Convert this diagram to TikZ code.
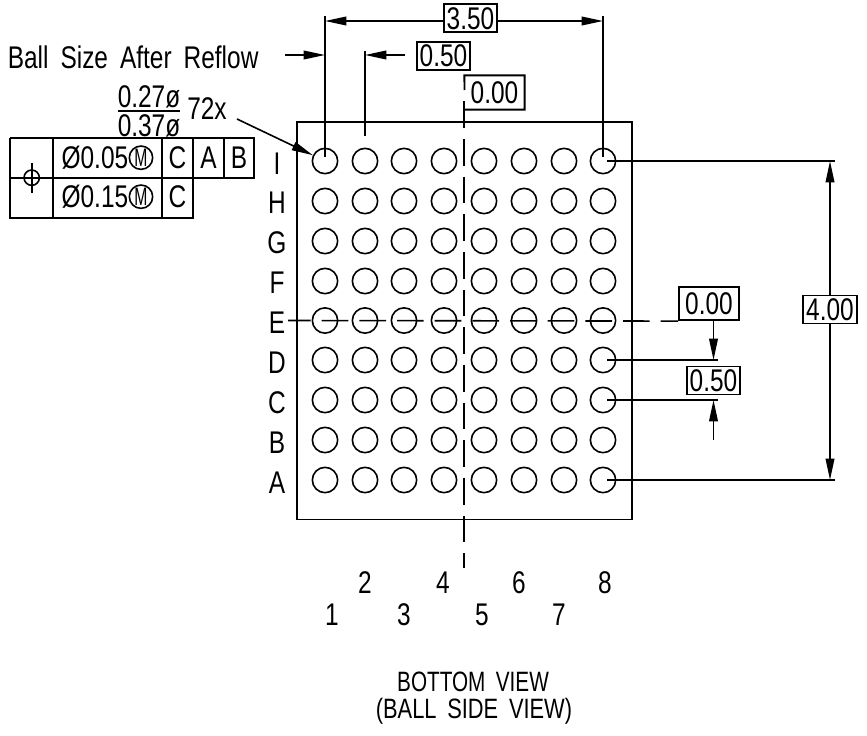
\documentclass[tikz,border=0pt]{standalone}
\usepackage{fontspec}
\setmainfont[FakeStretch=.78]{Liberation Sans}
\newfontfamily\narrowfont[FakeStretch=.74]{Liberation Sans}
\newfontfamily\tinyfont[FakeStretch=.62]{Liberation Sans}
\usetikzlibrary{arrows.meta}
\tikzset{>={Triangle[length=16pt,width=6.5pt]}}
\tikzset{
	dimtext/.style={inner sep=0pt,font=\fontsize{23.5}{23.5}\selectfont},
	dimbox/.style={dimtext,draw,line width=1.4pt,minimum width=40pt,minimum height=21pt},
	ball/.style={circle,draw,line width=1.2pt,minimum size=19pt,inner sep=0pt},
	centerline/.style={line width=1.2pt,dash pattern=on 20pt off 8.25pt},
	circled/.style={circle,draw,line width=1.2pt,minimum size=17.5pt,inner sep=0pt,font=\fontsize{19}{19}\tinyfont},
	titletext/.style={inner sep=0pt,font=\fontsize{21}{21}\selectfont}
}
\begin{document}
\begin{tikzpicture}[x=.75pt,y=-.75pt,line width=1.2pt]
	\useasboundingbox (0,0) rectangle (867,735);
	% package outline and ball grid
	\draw (297,121.7) rectangle (632,519.5);
	\foreach \col/\xpos in {1/325,2/365,3/404,4/444,5/484,6/524,7/564,8/603}{
		\foreach \row/\ypos in {I/161,H/201,G/241,F/281,E/320.5,D/360,C/400,B/440,A/480}{
			\node[ball] (ball-\col-\row) at (\xpos,\ypos) {};
		}
	}
	\foreach \row/\ypos in {I/164,H/203,G/243,F/283,E/323,D/363,C/403,B/443,A/483}{
		\node[dimtext] (row-\row) at (277,\ypos) {\row};
	}
	\foreach \col/\xpos/\ypos in {1/332/615,2/365/583,3/404/615,4/443/583,5/482/615,6/519/583,7/559/615,8/605/583}{
		\node[dimtext] (col-\col) at (\xpos,\ypos) {\col};
	}
	% center lines
	\coordinate (vtop) at (464,101.3);
	\coordinate (vbot) at (464,568);
	\coordinate (hleft) at (288,320.5);
	\node[dimbox,minimum width=45pt,minimum height=25pt] (zero-right) at (709,303.5) {0.00};
	\draw[centerline] (vtop) -- (vbot);
	\draw[centerline,dash phase=3pt] (hleft) -- (zero-right.south west);
	\node[dimtext,minimum width=44pt,minimum height=24.5pt] (zero-top) at (494.5,92.5) {0.00};
	\draw[line width=1.4pt] (464.5,90) -- (zero-top.north west) -- (zero-top.north east) -- (zero-top.south east) -- (zero-top.south west);
	% top dimensions
	\coordinate (ext-1) at (325,16);
	\coordinate (ext-2) at (365,51);
	\coordinate (ext-8) at (603,16);
	\coordinate (dim-left) at (325,21);
	\coordinate (dim-right) at (603,21);
	\coordinate (size-tail) at (285,55);
	\coordinate (size-tip) at (325,55);
	\coordinate (pitch-tail) at (405,55);
	\coordinate (pitch-tip) at (365,55);
	\draw ([yshift=3pt]ball-1-I.center) -- (ext-1);
	\draw ([yshift=3pt]ball-8-I.center) -- (ext-8);
	\draw (ball-2-I.north) ++(0,-11.5) -- (ext-2);
	\node[dimbox] (width-all) at (470.5,18.3) {3.50};
	\draw[->] (width-all.west |- dim-left) -- (dim-left);
	\draw[->] (width-all.east |- dim-right) -- (dim-right);
	\node[dimbox] (width-pitch) at (443.5,56) {0.50};
	\draw[->] (size-tail) -- (size-tip);
	\draw[->] (pitch-tail) -- (pitch-tip);
	% right dimensions
	\coordinate (line-d) at (718,360);
	\coordinate (line-c) at (718,400);
	\coordinate (arrow-d) at (713.5,360);
	\coordinate (arrow-c) at (713.5,400);
	\coordinate (arrow-tail) at (713.5,440);
	\coordinate (line-i) at (835,161);
	\coordinate (line-a) at (835,480);
	\coordinate (high-i) at (830,161);
	\coordinate (high-a) at (830,480);
	\draw ([xshift=3pt]ball-8-D.center) -- (line-d);
	\draw ([xshift=3pt]ball-8-C.center) -- (line-c);
	\draw ([xshift=3pt]ball-8-I.center) -- (line-i);
	\draw ([xshift=3pt]ball-8-A.center) -- (line-a);
	\draw[->] (zero-right.south -| arrow-d) -- (arrow-d);
	\draw[->] (arrow-tail) -- (arrow-c);
	\node[dimbox] (pitch-right) at (713.5,380.5) {0.50};
	\node[dimbox] (high-all) at (830,309.5) {4.00};
	\draw[->] (high-all.north -| high-i) -- (high-i);
	\draw[->] (high-all.south -| high-a) -- (high-a);
	% ball size note
	\node[dimtext,anchor=west] (ball-note) at (7,57) {Ball\, Size\, After\, Reflow};
	\node[dimtext] (size-min) at (149,96.5) {0.27ø};
	\node[dimtext] (size-max) at (149,125.5) {0.37ø};
	\coordinate (bar-left) at (118,111);
	\coordinate (bar-right) at (180,111);
	\draw (bar-left) -- (bar-right);
	\node[dimtext] (ball-count) at (207,109) {72x};
	\coordinate (leader) at (237,119);
	\draw[->] (leader) -- (ball-1-I);
	% feature control frame
	\draw[line width=1.4pt] (10.3,137.7) -- (254,137.7) -- (254,178) -- (10.3,178)
		(10.3,137.7) -- (10.3,217.7) -- (192.7,217.7) -- (192.7,137.7)
		(52.7,137.7) -- (52.7,217.7) (162.3,137.7) -- (162.3,217.7) (224,137.7) -- (224,178);
	\node[circle,draw,line width=1.2pt,minimum size=11.5pt,inner sep=0pt] (position) at (31.7,177.7) {};
	\draw (position.center) ++(-11.7,0) -- ++(23.4,0);
	\draw (position.center) ++(0,-15) -- ++(0,30);
	\node[dimtext,anchor=east] (tol-upper) at (129,158) {Ø0.05};
	\node[dimtext,anchor=east] (tol-lower) at (129,197) {Ø0.15};
	\node[circled] (mod-upper) at (141,157.7) {M};
	\node[circled] (mod-lower) at (141,196.7) {M};
	\node[dimtext] (datum-c) at (177.5,158) {C};
	\node[dimtext] (datum-a) at (208.5,158) {A};
	\node[dimtext] (datum-b) at (239,158) {B};
	\node[dimtext] (datum-c2) at (177.5,197) {C};
	% title
	\node[titletext] (title-top) at (473,682) {\narrowfont BOTTOM\, VIEW};
	\node[titletext] (title-bot) at (474,711) {(BALL\, SIDE\, VIEW)};
\end{tikzpicture}
\end{document}
